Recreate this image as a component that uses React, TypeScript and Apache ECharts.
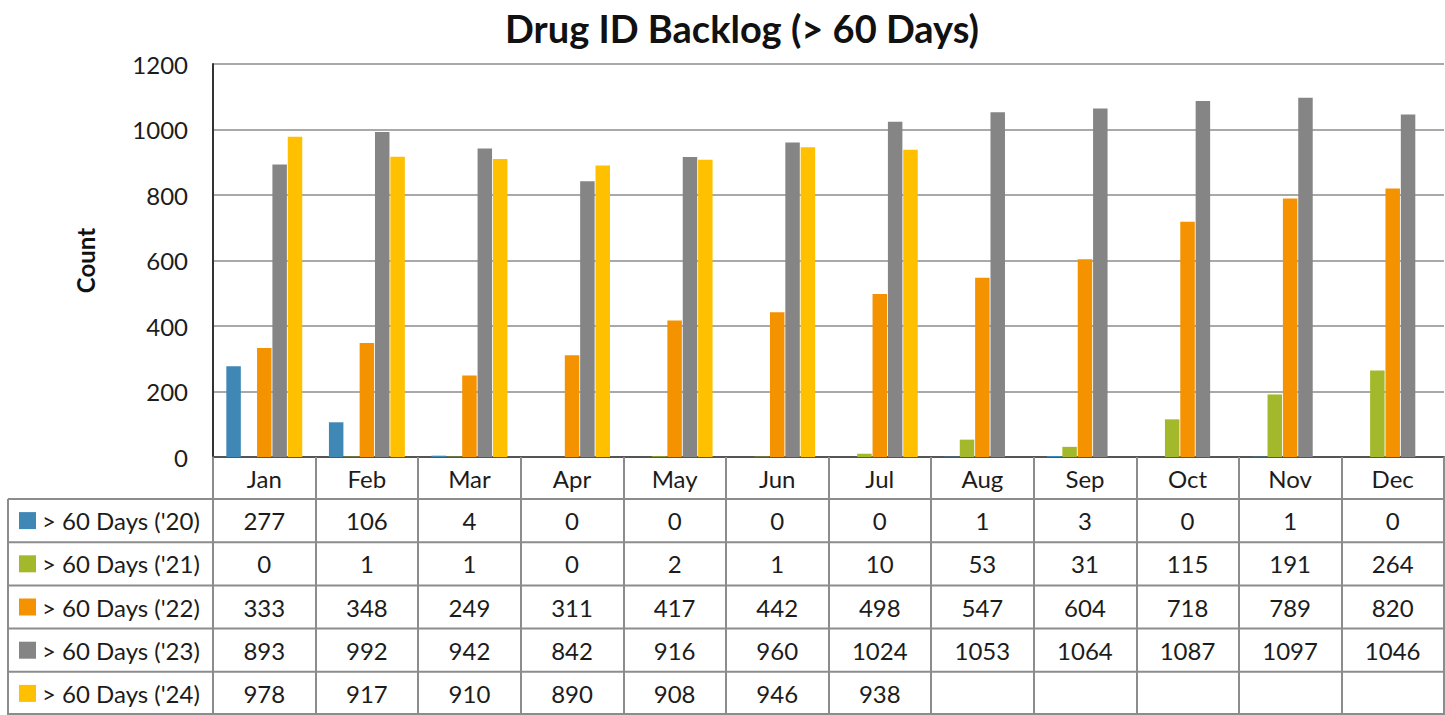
import React, { useEffect, useRef } from "react";
import * as echarts from "echarts";

const months = ["Jan", "Feb", "Mar", "Apr", "May", "Jun", "Jul", "Aug", "Sep", "Oct", "Nov", "Dec"];
const seriesNames = ["> 60 Days ('20)", "> 60 Days ('21)", "> 60 Days ('22)", "> 60 Days ('23)", "> 60 Days ('24)"];
const d20 = [277, 106, 4, 0, 0, 0, 0, 1, 3, 0, 1, 0];
const d21 = [0, 1, 1, 0, 2, 1, 10, 53, 31, 115, 191, 264];
const d22 = [333, 348, 249, 311, 417, 442, 498, 547, 604, 718, 789, 820];
const d23 = [893, 992, 942, 842, 916, 960, 1024, 1053, 1064, 1087, 1097, 1046];
const d24: (number | null)[] = [978, 917, 910, 890, 908, 946, 938, null, null, null, null, null];
const allSeries = [d20, d21, d22, d23, d24];
const yMin = 0;
const yMax = 1200;
const yStep = 200;

const COLORS = ["#3F88B6", "#A3B92B", "#F59200", "#858585", "#FFC000"];
const FONT = "Lato, 'Open Sans', sans-serif";
const TEXT = "#1c1c1c";
const LINE = "#8c8c8c";
const FS = 24;

export default function App() {
  const ref = useRef<HTMLDivElement>(null);
  useEffect(() => {
    if (!ref.current) return;
    const chart = echarts.init(ref.current, null, { renderer: "svg" });
    const base: any = {
      animation: false,
      backgroundColor: "#ffffff",
      title: {
        text: "Drug ID Backlog (> 60 Days)",
        left: 737,
        textAlign: "center",
        top: 4,
        textStyle: { fontFamily: FONT, fontSize: 38, fontWeight: "bold", color: "#111" },
      },
      grid: { left: 213, right: 1, top: 64, bottom: 258, containLabel: false },
      xAxis: {
        type: "category",
        data: months,
        boundaryGap: true,
        axisLine: { show: true, lineStyle: { color: "#555", width: 2 } },
        axisTick: { show: true, length: 258, lineStyle: { color: LINE, width: 2 } },
        axisLabel: { margin: 9, fontFamily: FONT, fontSize: FS, color: TEXT },
        splitLine: { show: false },
      },
      yAxis: {
        type: "value",
        min: yMin,
        max: yMax,
        interval: yStep,
        name: "Count",
        nameLocation: "middle",
        nameGap: 116,
        nameRotate: 90,
        nameTextStyle: { fontFamily: FONT, fontSize: 24, fontWeight: "bold", color: "#111" },
        axisLine: { show: true, lineStyle: { color: "#333", width: 2 } },
        axisTick: { show: false },
        axisLabel: {
          margin: 25,
          fontFamily: FONT,
          fontSize: FS,
          color: TEXT,
          formatter: (v: number) => String(v),
        },
        splitLine: { show: true, lineStyle: { color: LINE, width: 1.5 } },
      },
      series: allSeries.map((d, i) => ({
        name: seriesNames[i],
        type: "bar",
        data: d,
        itemStyle: { color: COLORS[i] },
        barCategoryGap: "26%",
        barGap: "6%",
      })),
    };
    chart.setOption(base);

    const y0 = chart.convertToPixel({ yAxisIndex: 0 }, 0) as number;
    const headerH = 42;
    const rowH = (715 - y0 - headerH) / allSeries.length;
    const rowTop = (r: number) => y0 + headerH + r * rowH;
    const leftX = 8;
    const rightX = 1445;
    const graphic: any[] = [];
    for (let r = 0; r <= allSeries.length; r++) {
      const yy = Math.min(rowTop(r), 714);
      graphic.push({
        type: "line",
        shape: { x1: leftX, y1: yy, x2: rightX, y2: yy },
        style: { stroke: LINE, lineWidth: 2 },
      });
    }
    graphic.push({
      type: "line",
      shape: { x1: leftX, y1: rowTop(0), x2: leftX, y2: 715 },
      style: { stroke: LINE, lineWidth: 2 },
    });
    allSeries.forEach((d, r) => {
      const cy = rowTop(r) + rowH / 2;
      graphic.push({
        type: "rect",
        shape: { x: 19, y: cy - 8.5, width: 17, height: 17 },
        style: { fill: COLORS[r] },
      });
      graphic.push({
        type: "text",
        x: 42,
        y: cy,
        style: {
          text: seriesNames[r],
          fontFamily: FONT,
          fontSize: FS,
          fill: TEXT,
          verticalAlign: "middle",
          align: "left",
        },
      });
      d.forEach((v, i) => {
        if (v === null || v === undefined) return;
        const cx = chart.convertToPixel({ xAxisIndex: 0 }, months[i]) as number;
        graphic.push({
          type: "text",
          x: cx,
          y: cy,
          style: {
            text: String(v),
            fontFamily: FONT,
            fontSize: FS,
            fill: TEXT,
            align: "center",
            verticalAlign: "middle",
          },
        });
      });
    });
    chart.setOption({ graphic });

    return () => chart.dispose();
  }, []);
  return (
    <div
      ref={ref}
      style={{ position: "fixed", left: 0, top: 0, width: 1445, height: 715, background: "#fff" }}
    />
  );
}
